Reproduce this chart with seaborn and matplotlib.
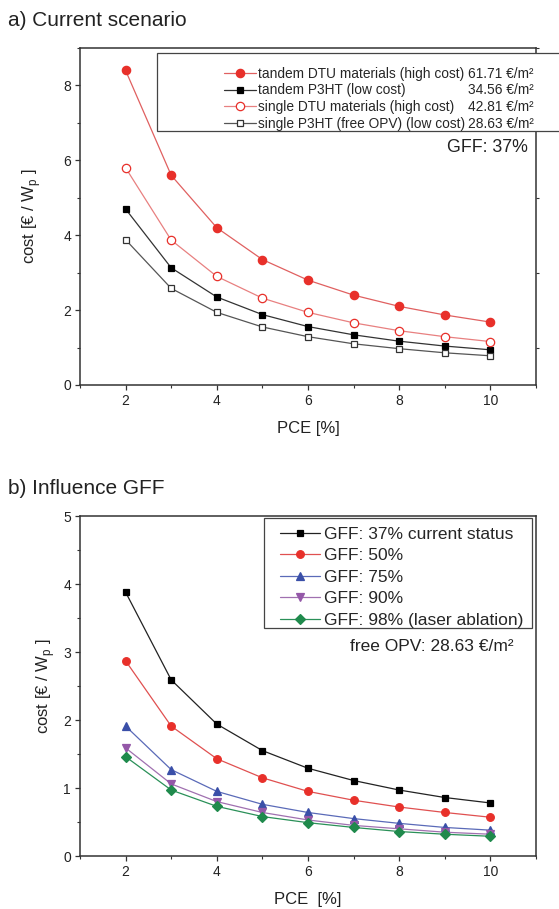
import numpy as np
import pandas as pd
import matplotlib
matplotlib.use("Agg")
import matplotlib.pyplot as plt
from matplotlib.lines import Line2D
from matplotlib.patches import Rectangle
from matplotlib.ticker import MultipleLocator
import seaborn as sns

sns.set_style("ticks")
plt.rcParams['font.family'] = ['Liberation Sans', 'DejaVu Sans']

# PCE values [%]
pce = [2, 3, 4, 5, 6, 7, 8, 9, 10]

# a) current scenario, cost [EUR / Wp]
tandem_dtu = [8.40, 5.60, 4.20, 3.35, 2.80, 2.40, 2.10, 1.87, 1.68]
tandem_p3ht = [4.70, 3.13, 2.35, 1.88, 1.56, 1.34, 1.17, 1.04, 0.94]
single_dtu = [5.80, 3.87, 2.90, 2.32, 1.94, 1.66, 1.45, 1.29, 1.16]
single_p3ht = [3.88, 2.58, 1.94, 1.55, 1.29, 1.10, 0.97, 0.86, 0.78]
labels_a = ["tandem DTU materials (high cost)", "tandem P3HT (low cost)",
            "single DTU materials (high cost)", "single P3HT (free OPV) (low cost)"]
prices_a = ["61.71 €/m²", "34.56 €/m²", "42.81 €/m²", "28.63 €/m²"]

# b) influence of GFF
gff37 = [3.88, 2.59, 1.94, 1.55, 1.29, 1.11, 0.97, 0.86, 0.78]
gff50 = [2.87, 1.91, 1.43, 1.15, 0.95, 0.82, 0.72, 0.64, 0.57]
gff75 = [1.91, 1.27, 0.95, 0.76, 0.64, 0.55, 0.48, 0.42, 0.38]
gff90 = [1.59, 1.06, 0.80, 0.64, 0.53, 0.45, 0.40, 0.35, 0.32]
gff98 = [1.46, 0.97, 0.73, 0.58, 0.49, 0.42, 0.36, 0.32, 0.29]
labels_b = ["GFF: 37% current status", "GFF: 50%", "GFF: 75%", "GFF: 90%",
            "GFF: 98% (laser ablation)"]

W, H = 559, 909
fig = plt.figure(figsize=(W / 100, H / 100), dpi=100)
ax1 = fig.add_axes([80 / W, 1 - 385 / H, 456 / W, 337 / H])
ax2 = fig.add_axes([80 / W, 1 - 856 / H, 456 / W, 340 / H])

RED = "#e8302a"
styles_a = [
    dict(color="#e06060", marker="o", mfc=RED, mec=RED, ms=6),
    dict(color="#333333", marker="s", mfc="black", mec="black", ms=5),
    dict(color="#e88080", marker="o", mfc="white", mec=RED, ms=6),
    dict(color="#555555", marker="s", mfc="white", mec="#333333", ms=5),
]
series_a = [tandem_dtu, tandem_p3ht, single_dtu, single_p3ht]
for vals, st in zip(series_a, styles_a):
    df = pd.DataFrame({"PCE": pce, "cost": vals})
    sns.lineplot(data=df, x="PCE", y="cost", ax=ax1, legend=False,
                 lw=0.9, mew=0.9, **st)

styles_b = [
    dict(color="#222222", marker="s", mfc="black", mec="black", ms=5),
    dict(color="#e05050", marker="o", mfc=RED, mec=RED, ms=5.5),
    dict(color="#5a6ab8", marker="^", mfc="#3a4fa8", mec="#3a4fa8", ms=6),
    dict(color="#a070b0", marker="v", mfc="#9458a8", mec="#9458a8", ms=6),
    dict(color="#2a9058", marker="D", mfc="#1f8a4c", mec="#1f8a4c", ms=4.8),
]
series_b = [gff37, gff50, gff75, gff90, gff98]
for vals, st in zip(series_b, styles_b):
    df = pd.DataFrame({"PCE": pce, "cost": vals})
    sns.lineplot(data=df, x="PCE", y="cost", ax=ax2, legend=False,
                 lw=0.9, mew=0.9, **st)

for ax in (ax1, ax2):
    ax.set_xlim(1, 11)
    ax.xaxis.set_major_locator(MultipleLocator(2))
    ax.xaxis.set_minor_locator(MultipleLocator(1))
    for sp in ax.spines.values():
        sp.set_color("#333333")
        sp.set_linewidth(1.1)
    ax.tick_params(which="major", direction="out", length=3.5, width=0.9,
                   colors="#333333", labelsize=10, labelcolor="#222222", pad=3)
    ax.tick_params(which="minor", direction="out", length=2, width=0.8,
                   colors="#333333")
    ax.set_ylabel("cost [€ / W$_\\mathregular{p}$ ]", fontsize=12, color="#222222")

ax1.set_ylim(0, 9)
ax1.yaxis.set_major_locator(MultipleLocator(2))
ax1.yaxis.set_minor_locator(MultipleLocator(1))
ax1.tick_params(which="minor", right=True)
ax1.set_xlabel("PCE [%]", fontsize=12, color="#222222", labelpad=9)
ax1.yaxis.set_label_coords(-0.081, 0.5)

ax2.set_ylim(0, 5)
ax2.yaxis.set_major_locator(MultipleLocator(1))
ax2.yaxis.set_minor_locator(MultipleLocator(0.5))
ax2.set_xlabel("PCE  [%]", fontsize=12, color="#222222", labelpad=9)
ax2.yaxis.set_label_coords(-0.051, 0.5)

# legend a: box drawn separately (wider than its content), labels + prices
box1 = Rectangle((0.1689, 0.7537), 0.89, 0.2313, transform=ax1.transAxes,
                 facecolor="white", edgecolor="#444444", lw=0.9,
                 clip_on=False, zorder=4)
ax1.add_patch(box1)
lines_a = ax1.get_lines()[:4]
blank = [Line2D([], [], linestyle="none") for _ in prices_a]
leg1 = ax1.legend(lines_a + blank, labels_a + prices_a, ncol=2,
                  loc="upper left", bbox_to_anchor=(0.3158, 0.9448),
                  fontsize=9.9, handlelength=2.3, handletextpad=0.15,
                  columnspacing=-2.2, labelspacing=0.2, borderpad=0,
                  borderaxespad=0, frameon=False)
leg1.set_zorder(5)
ax1.text(0.982, 0.706, "GFF: 37%", transform=ax1.transAxes, ha="right",
         va="center", fontsize=12.8, color="#222222")

box2 = Rectangle((0.4035, 0.6706), 0.5877, 0.3235, transform=ax2.transAxes,
                 facecolor="white", edgecolor="#444444", lw=0.9,
                 clip_on=False, zorder=4)
ax2.add_patch(box2)
leg2 = ax2.legend(ax2.get_lines()[:5], labels_b, loc="upper left",
                  bbox_to_anchor=(0.4386, 0.968), fontsize=12.5,
                  handlelength=2.3, handletextpad=0.25, labelspacing=0.36,
                  borderpad=0, borderaxespad=0, frameon=False)
leg2.set_zorder(5)
ax2.text(0.95, 0.615, "free OPV: 28.63 €/m²", transform=ax2.transAxes,
         ha="right", va="center", fontsize=12.5, color="#222222")

fig.text(8 / W, 1 - 20 / H, "a) Current scenario", fontsize=15,
         va="center", ha="left", color="#222222")
fig.text(8 / W, 1 - 489 / H, "b) Influence GFF", fontsize=15,
         va="center", ha="left", color="#222222")

fig.savefig("out.png", dpi=100)
